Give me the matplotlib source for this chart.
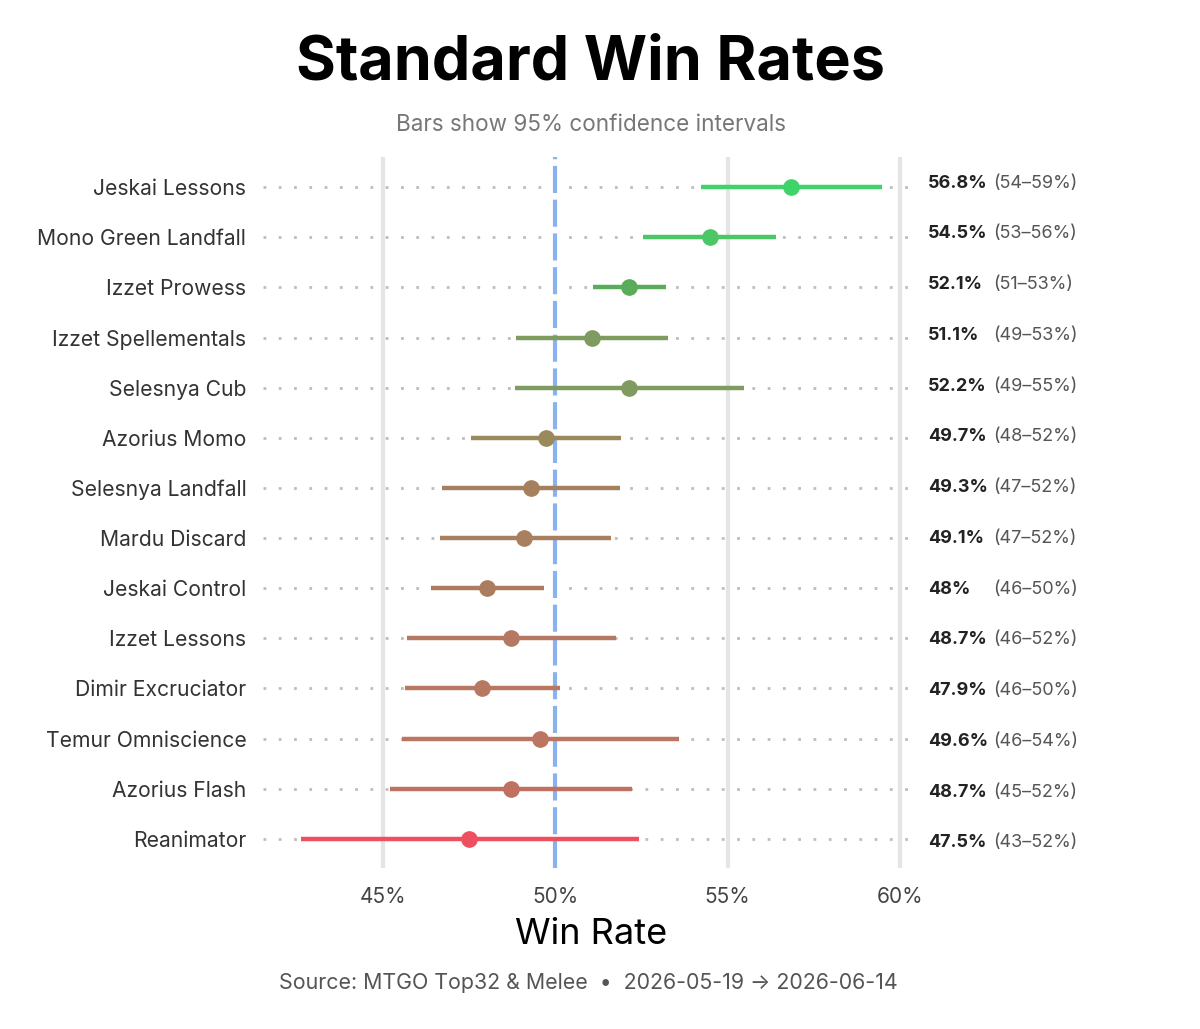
import matplotlib
matplotlib.use("Agg")
import matplotlib.pyplot as plt
from matplotlib.transforms import blended_transform_factory

plt.rcParams['font.family'] = ['Inter', 'DejaVu Sans']

archetypes = ["Jeskai Lessons", "Mono Green Landfall", "Izzet Prowess", "Izzet Spellementals",
              "Selesnya Cub", "Azorius Momo", "Selesnya Landfall", "Mardu Discard",
              "Jeskai Control", "Izzet Lessons", "Dimir Excruciator", "Temur Omniscience",
              "Azorius Flash", "Reanimator"]
win_rate = [56.84, 54.49, 52.15, 51.06, 52.15, 49.74, 49.29, 49.11, 48.04, 48.73, 47.89, 49.56, 48.71, 47.50]
ci_low = [54.23, 52.55, 51.10, 48.87, 48.84, 47.56, 46.72, 46.66, 46.40, 45.72, 45.66, 45.56, 45.21, 42.62]
ci_high = [59.48, 56.40, 53.22, 53.28, 55.48, 51.91, 51.88, 51.61, 49.68, 51.77, 50.13, 53.59, 52.22, 52.43]
value_labels = ["56.8%", "54.5%", "52.1%", "51.1%", "52.2%", "49.7%", "49.3%", "49.1%",
                "48%", "48.7%", "47.9%", "49.6%", "48.7%", "47.5%"]
range_labels = ["(54–59%)", "(53–56%)", "(51–53%)", "(49–53%)", "(49–55%)", "(48–52%)", "(47–52%)",
                "(47–52%)", "(46–50%)", "(46–52%)", "(46–50%)", "(46–54%)", "(45–52%)", "(43–52%)"]
colors = ["#3fd46a", "#4cc765", "#5aab5a", "#7e9b60", "#7f9b60", "#998a5c", "#a5805e",
          "#a87f5f", "#ab7c5e", "#b57862", "#b77761", "#bb7561", "#c07060", "#ee5060"]
x_ticks = [45, 50, 55, 60]
x_tick_labels = ["45%", "50%", "55%", "60%"]

fig = plt.figure(figsize=(12, 10.29), dpi=100)
ax = fig.add_axes([263/1200, 1 - 868/1029, (912-263)/1200, (868-157)/1029])
ax.set_xlim(41.53, 60.35)
ax.set_ylim(len(archetypes) - 1 + 0.58, -0.6)

for s in ax.spines.values():
    s.set_visible(False)

# vertical gridlines
for xv in x_ticks:
    if xv == 50:
        continue
    ax.axvline(xv, color="#e5e5e5", lw=3, zorder=1)
ax.axvline(50, color="#8ab2ee", lw=3, dashes=(6.5, 1.6), zorder=2)

ys = list(range(len(archetypes)))
for y in ys:
    ax.axhline(y, color="#bdbdbd", lw=2, dashes=(1, 4.5), zorder=0.5)

for y, wr, lo, hi, c in zip(ys, win_rate, ci_low, ci_high, colors):
    ax.plot([lo, hi], [y, y], color=c, lw=3.2, solid_capstyle="butt", zorder=3)
    ax.plot([wr], [y], "o", color=c, ms=11, zorder=4)

ax.set_yticks(ys)
ax.set_yticklabels(archetypes, fontsize=15.2, color="#333333")
ax.set_xticks(x_ticks)
ax.set_xticklabels(x_tick_labels, fontsize=15, color="#444444")
ax.tick_params(axis="y", length=0, pad=12)
ax.tick_params(axis="x", length=0, pad=14)

tr = blended_transform_factory(fig.transFigure, ax.transData)
n = len(ys)
for y, vl, rl in zip(ys, value_labels, range_labels):
    yy = y - 0.08 + y * (0.16 / (n - 1))
    ax.text(928/1200, yy, vl, transform=tr, ha="left", va="center",
            fontsize=13, fontweight="bold", color="#222222")
    ax.text(993/1200, yy, rl, transform=tr, ha="left", va="center",
            fontsize=13, color="#555555")

fig.text(591/1200, 1 - 64/1029, "Standard Win Rates", ha="center", va="center",
         fontsize=44, fontweight="bold", color="#000000")
fig.text(591/1200, 1 - 125/1029, "Bars show 95% confidence intervals", ha="center", va="center",
         fontsize=16.2, color="#777777")
fig.text(591/1200, 1 - 934/1029, "Win Rate", ha="center", va="center",
         fontsize=26, color="#000000")
fig.text(588/1200, 1 - 983/1029, "Source: MTGO Top32 & Melee  •  2026-05-19 → 2026-06-14",
         ha="center", va="center", fontsize=15.4, color="#555555")

fig.savefig("out.png", dpi=100, facecolor="white")
